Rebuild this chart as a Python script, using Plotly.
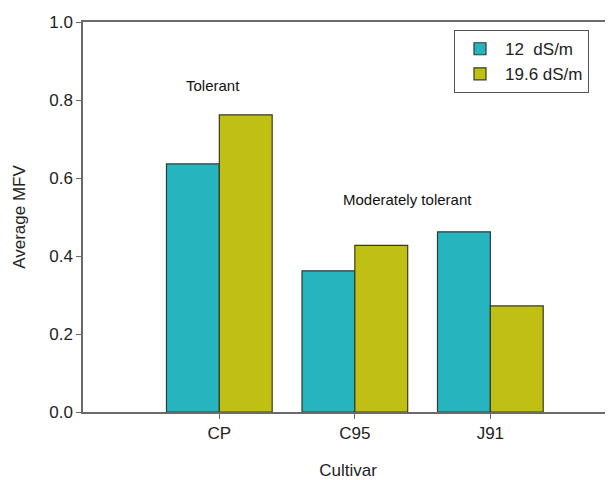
import plotly.graph_objects as go

cultivars = ["CP", "C95", "J91"]
mfv_12 = [0.636, 0.362, 0.462]
mfv_196 = [0.762, 0.427, 0.272]
series_names = ["12  dS/m", "19.6 dS/m"]
y_ticks = [0.0, 0.2, 0.4, 0.6, 0.8, 1.0]

FONT = "Liberation Sans, Arial, sans-serif"
AXC = "#6a6a6a"

fig = go.Figure()
fig.add_trace(go.Bar(x=cultivars, y=mfv_12, name=series_names[0],
                     marker=dict(color="#26B5BE", line=dict(color="#2f3a3a", width=1.2))))
fig.add_trace(go.Bar(x=cultivars, y=mfv_196, name=series_names[1],
                     marker=dict(color="#C0C014", line=dict(color="#3a3a20", width=1.2))))

fig.update_layout(
    width=605, height=472,
    margin=dict(l=75, r=0, t=14, b=68),
    paper_bgcolor="white", plot_bgcolor="white",
    barmode="group", bargap=0.22, bargroupgap=0,
    font=dict(family=FONT, color="#222"),
    showlegend=True,
    legend=dict(x=0.70, y=0.979, xanchor="left", yanchor="top",
                bordercolor="#555", borderwidth=1, bgcolor="white",
                font=dict(size=17, family=FONT, color="#222"),
                tracegroupgap=0, itemwidth=40),
    xaxis=dict(type="category", range=[-1.006, 2.905],
               showline=True, linecolor=AXC, linewidth=1.5, mirror=True,
               ticks="outside", ticklen=5, tickcolor=AXC,
               tickfont=dict(size=17, family=FONT, color="#222"),
               title=dict(text="Cultivar", font=dict(size=17, family=FONT, color="#222"), standoff=22),
               showgrid=False, zeroline=False),
    yaxis=dict(range=[0, 1.0], tickvals=y_ticks, ticktext=[f"{v:.1f}" for v in y_ticks],
               showline=True, linecolor=AXC, linewidth=1.5,
               ticks="outside", ticklen=5, tickcolor=AXC,
               tickfont=dict(size=17, family=FONT, color="#222"),
               title=dict(text="Average MFV", font=dict(size=17, family=FONT, color="#222"), standoff=19),
               showgrid=False, zeroline=False),
)

fig.add_annotation(x=-0.05, y=0.838, xref="x", yref="y", text="Tolerant", showarrow=False,
                   font=dict(size=15, family=FONT, color="#111"))
fig.add_annotation(x=1.39, y=0.544, xref="x", yref="y", text="Moderately tolerant", showarrow=False,
                   font=dict(size=15, family=FONT, color="#111"))

fig.write_html("out.html")
